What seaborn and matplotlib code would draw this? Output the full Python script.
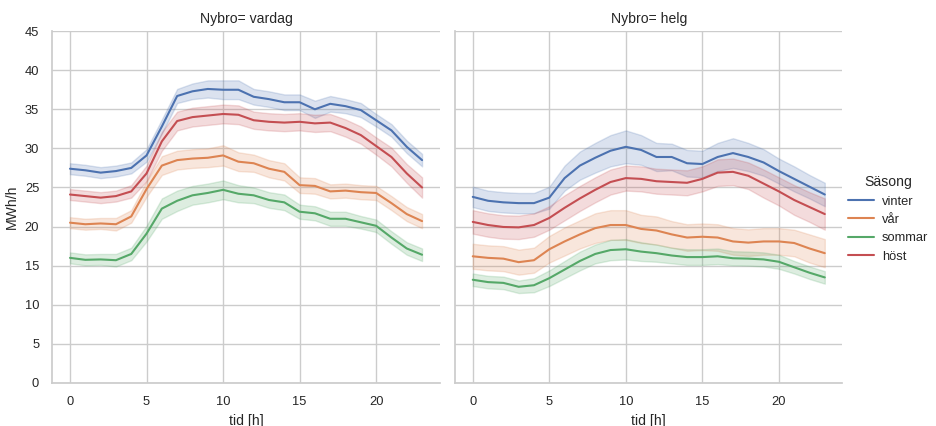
import matplotlib
matplotlib.use("Agg")
import matplotlib.pyplot as plt
import seaborn as sns
import pandas as pd

hours = list(range(24))
seasons = ["vinter", "vår", "sommar", "höst"]
day_types = ["vardag", "helg"]

# hourly mean load (MWh/h)
vardag_vinter = [27.4, 27.2, 26.9, 27.1, 27.5, 29.1, 32.8, 36.7, 37.3, 37.6, 37.5, 37.5,
                 36.6, 36.3, 35.9, 35.9, 35.0, 35.7, 35.4, 34.9, 33.6, 32.3, 30.2, 28.5]
vardag_var = [20.5, 20.3, 20.4, 20.3, 21.3, 24.8, 27.8, 28.5, 28.7, 28.8, 29.1, 28.3,
              28.1, 27.4, 27.0, 25.3, 25.2, 24.5, 24.6, 24.4, 24.3, 23.0, 21.6, 20.7]
vardag_sommar = [16.0, 15.75, 15.8, 15.7, 16.5, 19.1, 22.3, 23.3, 24.0, 24.3, 24.7, 24.2,
                 24.0, 23.4, 23.1, 21.9, 21.7, 21.0, 21.0, 20.55, 20.1, 18.6, 17.2, 16.4]
vardag_host = [24.1, 23.9, 23.7, 23.9, 24.5, 26.8, 30.9, 33.5, 34.0, 34.2, 34.4, 34.3,
               33.6, 33.4, 33.3, 33.4, 33.2, 33.3, 32.6, 31.7, 30.3, 28.9, 26.8, 25.0]
helg_vinter = [23.8, 23.3, 23.1, 23.0, 23.0, 23.7, 26.2, 27.8, 28.8, 29.7, 30.2, 29.8,
               28.9, 28.9, 28.1, 28.0, 28.9, 29.4, 28.9, 28.2, 27.1, 26.1, 25.1, 24.1]
helg_var = [16.2, 16.0, 15.9, 15.45, 15.7, 17.1, 18.1, 19.0, 19.8, 20.2, 20.2, 19.7,
            19.5, 19.0, 18.6, 18.7, 18.6, 18.1, 17.95, 18.1, 18.1, 17.9, 17.2, 16.6]
helg_sommar = [13.2, 12.9, 12.8, 12.3, 12.5, 13.4, 14.5, 15.6, 16.5, 17.0, 17.1, 16.8,
               16.6, 16.3, 16.1, 16.1, 16.2, 15.95, 15.9, 15.8, 15.5, 14.8, 14.1, 13.5]
helg_host = [20.6, 20.2, 19.95, 19.9, 20.2, 21.1, 22.4, 23.6, 24.7, 25.7, 26.2, 26.1,
             25.8, 25.7, 25.6, 26.1, 26.9, 27.0, 26.5, 25.5, 24.5, 23.4, 22.5, 21.6]

# half width of the confidence band
ci_vardag_vinter = [0.7, 0.7, 0.7, 0.7, 0.7, 0.8, 0.9, 0.9, 1.0, 1.1, 1.2, 1.2,
                    1.0, 1.0, 1.0, 1.0, 1.1, 1.0, 0.9, 0.9, 0.8, 0.8, 0.8, 0.8]
ci_vardag_var = [0.7, 0.7, 0.7, 0.8, 0.8, 1.0, 1.2, 1.2, 1.2, 1.2, 1.3, 1.2,
                 1.1, 1.1, 1.1, 1.0, 1.0, 0.9, 0.9, 0.9, 0.9, 0.9, 0.9, 0.9]
ci_vardag_sommar = [0.7, 0.7, 0.7, 0.8, 0.8, 1.0, 1.3, 1.3, 1.2, 1.2, 1.2, 1.1,
                    1.0, 1.0, 1.0, 0.9, 0.9, 0.9, 0.9, 0.8, 0.8, 0.8, 0.8, 0.8]
ci_vardag_host = [0.7, 0.7, 0.7, 0.7, 0.8, 1.0, 1.2, 1.2, 1.2, 1.2, 1.2, 1.2,
                  1.1, 1.1, 1.1, 1.1, 1.1, 1.1, 1.1, 1.1, 1.1, 1.2, 1.2, 1.3]
ci_helg_vinter = [1.3, 1.3, 1.3, 1.3, 1.3, 1.4, 1.6, 1.8, 1.9, 2.0, 2.1, 1.9,
                  1.8, 1.7, 1.7, 1.7, 1.8, 1.9, 1.8, 1.7, 1.6, 1.6, 1.5, 1.5]
ci_helg_var = [1.6, 1.6, 1.6, 1.6, 1.6, 1.7, 1.8, 1.8, 1.9, 1.9, 1.9, 1.8,
               1.8, 1.7, 1.7, 1.7, 1.7, 1.7, 1.7, 1.7, 1.7, 1.7, 1.8, 1.8]
ci_helg_sommar = [0.8, 0.8, 0.8, 0.8, 0.9, 1.0, 1.1, 1.2, 1.2, 1.3, 1.3, 1.2,
                  1.1, 1.0, 1.0, 1.0, 1.0, 0.9, 0.9, 0.9, 0.9, 0.8, 0.8, 0.8]
ci_helg_host = [1.5, 1.5, 1.5, 1.5, 1.5, 1.5, 1.6, 1.6, 1.6, 1.6, 1.6, 1.6,
                1.6, 1.6, 1.6, 1.6, 1.7, 1.7, 1.7, 1.8, 1.8, 1.9, 1.9, 2.0]

means = {
    ("vardag", "vinter"): (vardag_vinter, ci_vardag_vinter),
    ("vardag", "vår"): (vardag_var, ci_vardag_var),
    ("vardag", "sommar"): (vardag_sommar, ci_vardag_sommar),
    ("vardag", "höst"): (vardag_host, ci_vardag_host),
    ("helg", "vinter"): (helg_vinter, ci_helg_vinter),
    ("helg", "vår"): (helg_var, ci_helg_var),
    ("helg", "sommar"): (helg_sommar, ci_helg_sommar),
    ("helg", "höst"): (helg_host, ci_helg_host),
}

# long table: lower / mid / upper per hour, median + min-max band reproduces mean and CI
rows = []
for (day, season), (vals, ci) in means.items():
    for h, v, c in zip(hours, vals, ci):
        for val in (v - c, v, v + c):
            rows.append({"Nybro": day, "Säsong": season, "tid [h]": h, "MWh/h": val})
df = pd.DataFrame(rows)

sns.set_theme(style="whitegrid", font="Liberation Sans", font_scale=0.84)

g = sns.relplot(
    data=df, x="tid [h]", y="MWh/h", hue="Säsong", col="Nybro",
    kind="line", estimator="median",
    errorbar=lambda v: (v.min(), v.max()),
    hue_order=seasons, col_order=day_types,
    height=4.26, aspect=1.0,
)
g.set_titles(col_template="{col_var}= {col_name}")
g.set(ylim=(0, 45), yticks=range(0, 46, 5))

fig = g.figure
fig.set_size_inches(9.36, 4.26)
fig.subplots_adjust(left=0.056, right=0.90, bottom=0.101, top=0.927, wspace=0.04)
sns.move_legend(g, "center left", bbox_to_anchor=(0.894, 0.486), frameon=False,
                handletextpad=0.6)

fig.savefig("out.png", dpi=100)
